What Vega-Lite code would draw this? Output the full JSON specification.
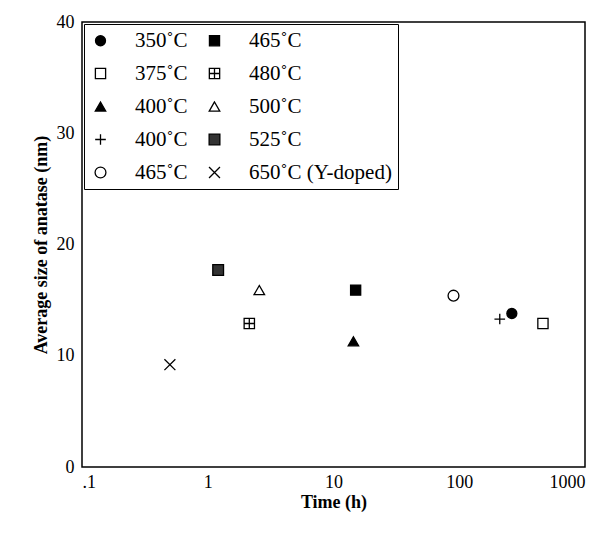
{
  "$schema": "https://vega.github.io/schema/vega-lite/v6.json",
  "autosize": "none",
  "width": 503,
  "height": 445,
  "padding": {"left": 82, "top": 22, "right": 26, "bottom": 73},
  "config": {
    "view": {"stroke": "black", "strokeWidth": 1.5},
    "font": "Liberation Serif"
  },
  "data": {
    "values": [
      {"key": "k01", "time": 262, "size": 13.8},
      {"key": "k02", "time": 15, "size": 15.9},
      {"key": "k03", "time": 463, "size": 12.9},
      {"key": "k04", "time": 2.14, "size": 12.9},
      {"key": "k05", "time": 14.4, "size": 11.3},
      {"key": "k06", "time": 2.57, "size": 15.9},
      {"key": "k07", "time": 210, "size": 13.3},
      {"key": "k08", "time": 1.21, "size": 17.7},
      {"key": "k09", "time": 90, "size": 15.4},
      {"key": "k10", "time": 0.5, "size": 9.2}
    ]
  },
  "mark": {"type": "point", "stroke": "black", "strokeWidth": 1.3, "opacity": 1},
  "encoding": {
    "x": {
      "field": "time", "type": "quantitative",
      "scale": {"type": "log", "domain": [0.1, 1000]},
      "axis": {
        "values": [0.1, 1, 10, 100, 1000], "format": "d",
        "labelExpr": "datum.value < 0.5 ? '.1' : datum.label",
        "title": "Time (h)", "titleFont": "Liberation Serif", "titleFontSize": 18,
        "titleFontWeight": "bold", "titleColor": "black", "titlePadding": 2,
        "labelFontSize": 18, "labelColor": "black", "labelPadding": 6,
        "ticks": false, "domain": false, "grid": false
      }
    },
    "y": {
      "field": "size", "type": "quantitative",
      "scale": {"domain": [0, 40]},
      "axis": {
        "values": [0, 10, 20, 30, 40],
        "title": "Average size of anatase (nm)", "titleFont": "Liberation Serif", "titleFontSize": 18,
        "titleFontWeight": "bold", "titleColor": "black", "titlePadding": 6,
        "labelFontSize": 18, "labelColor": "black", "labelPadding": 8,
        "ticks": false, "domain": false, "grid": false
      }
    },
    "shape": {
      "field": "key", "type": "nominal",
      "scale": {
        "domain": ["k01","k02","k03","k04","k05","k06","k07","k08","k09","k10"],
        "range": ["circle", "square", "square", "M-1,-1H1V1H-1ZM-1,0H1M0,-1V1", "triangle-up", "triangle-up", "M-1,0H1M0,-1V1", "square", "circle", "M-1,-1L1,1M-1,1L1,-1"]
      },
      "legend": {
        "title": null, "orient": "top-left", "columns": 2, "direction": "horizontal",
        "strokeColor": "black", "padding": 6, "offset": 2,
        "labelFont": "Liberation Serif", "labelFontSize": 21, "labelColor": "black",
        "labelLimit": 300, "rowPadding": 11, "columnPadding": 16, "symbolStrokeColor": "black",
        "labelOffset": 24, "symbolStrokeWidth": 1.3,
        "labelExpr": "({'k01':'350˚C','k02':'465˚C','k03':'375˚C','k04':'480˚C','k05':'400˚C','k06':'500˚C','k07':'400˚C','k08':'525˚C','k09':'465˚C','k10':'650˚C (Y-doped)'})[datum.label]"
      }
    },
    "fill": {
      "field": "key", "type": "nominal",
      "scale": {
        "domain": ["k01","k02","k03","k04","k05","k06","k07","k08","k09","k10"],
        "range": ["black", "black", "white", "white", "black", "white", "transparent", "#333", "white", "transparent"]
      }
    },
    "size": {
      "field": "key", "type": "nominal",
      "scale": {
        "domain": ["k01","k02","k03","k04","k05","k06","k07","k08","k09","k10"],
        "range": [100, 120, 110, 30, 95, 90, 60, 30, 85, 55]
      }
    }
  }
}
